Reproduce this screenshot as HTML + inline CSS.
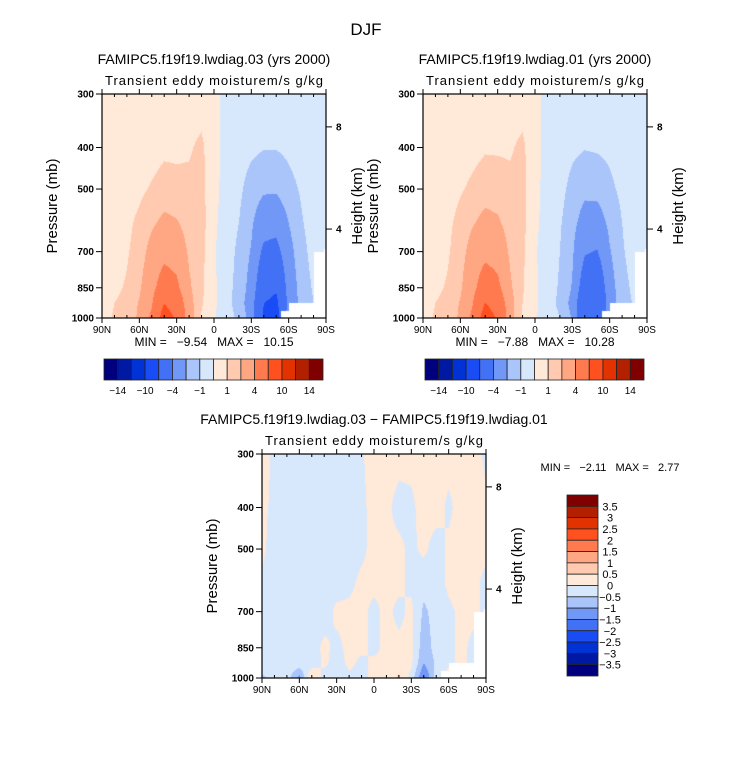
<!DOCTYPE html>
<html><head><meta charset="utf-8"><style>
body{margin:0;background:#fff;width:733px;height:772px;overflow:hidden;position:relative;font-family:"Liberation Sans",sans-serif}
canvas{position:absolute}
svg{position:absolute;left:0;top:0}
</style></head><body>
<canvas id="c1" width="224" height="224" style="left:102px;top:94px"></canvas>
<canvas id="c2" width="224" height="224" style="left:423px;top:94px"></canvas>
<canvas id="c3" width="224" height="224" style="left:262px;top:454px"></canvas>
<svg id="s" width="733" height="772"></svg>
<script>
const lats=[90,80,70,60,50,40,30,20,10,0,-10,-20,-30,-40,-50,-60,-70,-80,-90];
const levs=[300,400,500,600,700,850,925,1000];
const N=NaN;
const field1=[
[0.3,0.3,0.3,0.3,0.4,0.5,0.5,0.5,0.5,0.3,-0.3,-0.4,-0.5,-0.6,-0.6,-0.5,-0.4,-0.3,-0.3],
[0.3,0.3,0.4,0.5,0.6,0.8,0.8,0.9,1.2,0.3,-0.3,-0.6,-0.8,-0.95,-0.95,-0.8,-0.6,-0.4,-0.3],
[0.3,0.4,0.6,0.8,1.1,1.4,1.3,1.2,1.3,0.3,-0.4,-0.8,-1.4,-1.8,-1.8,-1.3,-0.9,-0.5,-0.3],
[0.3,0.5,0.8,1.2,1.8,2.3,2.1,1.5,1.4,0.2,-0.5,-1.0,-1.8,-3.0,-3.2,-2.0,-1.1,-0.6,-0.3],
[0.4,0.6,0.9,1.4,2.5,3.2,3.0,1.8,1.3,0.1,-0.6,-1.2,-2.1,-4.5,-4.8,-2.5,-1.3,-0.7,-0.4],
[0.5,0.8,1.1,1.8,3.2,5.5,4.5,2.2,1.2,0.2,-0.7,-1.3,-2.5,-6.5,-7.5,-3.0,-1.5,-0.9,N],
[0.6,1.0,1.3,2.1,3.8,8.0,6.0,2.5,1.1,0.2,-0.7,-1.4,-2.8,-8.0,-9.0,-3.2,-1.6,-1.0,N],
[0.7,1.1,1.4,2.2,4.5,10.0,7.5,2.6,0.9,0.1,-0.6,-1.2,-2.5,-8.5,-9.5,-2.5,N,N,N]];
const field2=[
[0.3,0.3,0.3,0.3,0.4,0.5,0.5,0.5,0.5,0.3,-0.3,-0.4,-0.5,-0.5,-0.5,-0.4,-0.4,-0.3,-0.3],
[0.3,0.3,0.4,0.5,0.7,0.9,0.9,0.9,1.2,0.3,-0.3,-0.5,-0.8,-0.95,-0.9,-0.8,-0.5,-0.4,-0.3],
[0.3,0.4,0.6,0.9,1.2,1.5,1.4,1.2,1.3,0.3,-0.4,-0.7,-1.3,-1.7,-1.6,-1.2,-0.8,-0.5,-0.3],
[0.3,0.5,0.8,1.3,1.9,2.4,2.2,1.5,1.3,0.2,-0.4,-0.9,-1.6,-2.6,-2.7,-1.7,-1.0,-0.5,-0.3],
[0.4,0.6,0.9,1.5,2.6,3.3,3.0,1.8,1.2,0.1,-0.5,-1.0,-1.8,-3.8,-4.1,-2.1,-1.1,-0.6,-0.4],
[0.5,0.8,1.1,1.8,3.3,5.6,4.6,2.2,1.1,0.2,-0.6,-1.1,-2.1,-5.5,-6.3,-2.6,-1.3,-0.8,N],
[0.6,1.0,1.3,2.1,3.9,8.2,6.1,2.5,1.0,0.2,-0.6,-1.2,-2.4,-6.7,-7.6,-2.7,-1.4,-0.9,N],
[0.7,1.1,1.4,2.2,4.6,10.2,7.6,2.6,0.9,0.1,-0.5,-1.0,-2.1,-7.1,-7.9,-2.1,N,N,N]];
const field3=[
[0.2,-0.1,-0.2,-0.2,-0.2,-0.2,-0.2,-0.2,-0.05,0.2,0.2,0.15,0.15,0.2,0.2,0.2,0.2,0.2,-0.1],
[0.1,-0.1,-0.2,-0.2,-0.2,-0.2,-0.2,-0.2,-0.1,0.15,0.1,-0.15,-0.1,0.2,0.2,-0.1,0.2,0.2,0.1],
[0.1,-0.2,-0.2,-0.2,-0.2,-0.2,-0.2,-0.2,-0.1,0.15,0.1,0.1,-0.1,0.1,-0.2,0.1,0.2,0.1,0.1],
[-0.1,-0.2,-0.2,-0.2,-0.2,-0.2,-0.2,-0.1,0.1,0.1,0.1,0.1,-0.1,-0.3,-0.2,0.1,0.2,0.1,-0.1],
[-0.1,-0.2,-0.2,-0.2,-0.2,-0.2,0.1,0.1,0.1,-0.1,0.1,-0.1,0.1,-0.6,-0.3,-0.1,0.1,0.1,-0.1],
[-0.2,-0.2,-0.2,-0.2,-0.2,0.1,-0.1,0.1,0.1,-0.1,0.1,0.1,0.1,-0.8,-0.3,-0.1,0.1,-0.1,N],
[-0.2,-0.2,-0.2,-0.2,-0.3,0.1,-0.2,0.1,-0.1,0.1,0.1,0.3,0.1,-1.0,-0.4,-0.1,0.1,-0.1,N],
[-0.6,-0.3,-0.2,-1.2,0.6,-0.2,-0.3,-0.1,-0.1,0.1,0.2,0.6,-0.2,-1.6,-0.3,0.3,N,N,N]];
const levelsAbs=[-14,-12,-10,-8,-4,-2,-1,0,1,2,4,8,10,12,14];
const levelsDiff=[-3.5,-3,-2.5,-2,-1.5,-1,-0.5,0,0.5,1,1.5,2,2.5,3,3.5];
const absLabels=['-14','-10','-4','-1','1','4','10','14'];
const diffLabels=['3.5','3','2.5','2','1.5','1','0.5','0','-0.5','-1','-1.5','-2','-2.5','-3','-3.5'];
const xTickLabels=['90N','60N','30N','0','30S','60S','90S'];
const pTicks=[300,400,500,700,850,1000];
const hTicks=[8,4];
const hTickP=[358,620];
const colors=['#00007f','#0019a3','#0032d6','#1a4cf6','#4271f6','#7198f7','#a9c5fa','#d7e8fd','#ffe9d8','#ffcab0','#ffa682','#ff7a4e','#ff5020','#e13200','#b22000','#800000'];

const W=224,H=224;
const yOfP=p=>H*(1-Math.log(1000/p)/Math.log(1000/300));
const pOfY=y=>1000/Math.exp((1-y/H)*Math.log(1000/300));
const xOfLat=l=>W*(90-l)/180;

function sample(f,lat,p){
  let ci=(90-lat)/10; let i0=Math.min(17,Math.floor(ci)); let fx=ci-i0;
  let r=0; while(r<levs.length-2 && levs[r+1]<p) r++;
  let fy=(Math.log(p)-Math.log(levs[r]))/(Math.log(levs[r+1])-Math.log(levs[r]));
  fy=Math.max(0,Math.min(1,fy));
  const a=f[r][i0],b=f[r][i0+1],c=f[r+1][i0],d=f[r+1][i0+1];
  return (a*(1-fx)+b*fx)*(1-fy)+(c*(1-fx)+d*fx)*fy;
}
function masked(lat,p){return (lat<-54&&p>965)||(lat<-81&&p>920)||(lat<-88&&p>690);}
function draw(id,f,lv){
  const cv=document.getElementById(id),ctx=cv.getContext('2d');
  const img=ctx.createImageData(W,H);
  for(let y=0;y<H;y++){const p=pOfY(y+0.5);
    for(let x=0;x<W;x++){const lat=90-(x+0.5)/W*180;
      let k=(y*W+x)*4; let v=masked(lat,p)?NaN:sample(f,lat,p);
      let col='#ffffff';
      if(!isNaN(v)){let j=0;while(j<lv.length&&v>=lv[j])j++;col=colors[j];}
      img.data[k]=parseInt(col.substr(1,2),16);img.data[k+1]=parseInt(col.substr(3,2),16);img.data[k+2]=parseInt(col.substr(5,2),16);img.data[k+3]=255;}}
  ctx.putImageData(img,0,0);
}
draw('c1',field1,levelsAbs);draw('c2',field2,levelsAbs);draw('c3',field3,levelsDiff);

const S=document.getElementById('s');const NS='http://www.w3.org/2000/svg';
function el(t,a,txt){const e=document.createElementNS(NS,t);for(const k in a)e.setAttribute(k,a[k]);if(txt!==undefined)e.textContent=txt;S.appendChild(e);return e;}
function text(x,y,s,size,anchor,name,extra){const e=el('text',Object.assign({x:x,y:y,'font-size':size,'text-anchor':anchor||'middle','font-family':'Liberation Sans, sans-serif',fill:'#000',style:'white-space:pre'},extra||{}),s);

return e;}

text(366,35,'DJF',17,'middle','main-title');
function panel(ox,oy,title,mn,mx,pref,diff){
  text(ox+112,oy-30,title,14,'middle',pref+'-title');
  text(ox+112,oy-9,'Transient eddy moisturem/s g/kg',13,'middle',pref+'-subtitle',{textLength:218});
  const r=el('rect',{x:ox,y:oy,width:W,height:H,fill:'none',stroke:'#000','stroke-width':1.2});
  
  
  for(let l=90;l>=-90;l-=10){const x=ox+xOfLat(l);const maj=l%30===0;
    el('line',{x1:x,x2:x,y1:oy+H,y2:oy+H+(maj?5:-3),stroke:'#000'});
    el('line',{x1:x,x2:x,y1:oy,y2:oy-(maj?5:-3),stroke:'#000'});}
  xTickLabels.forEach((s,i)=>{text(ox+i*W/6,oy+H+15,s,10,'middle',pref+'-x-tick-label');});
  pTicks.forEach(p=>{const y=oy+yOfP(p);el('line',{x1:ox-6,x2:ox,y1:y,y2:y,stroke:'#000'});
    text(ox-8,y+3.5,String(p),10,'end',pref+'-y-tick-label',{'font-weight':'bold'});});
  hTicks.forEach((h,i)=>{const y=oy+yOfP(hTickP[i]);el('line',{x1:ox+W,x2:ox+W+6,y1:y,y2:y,stroke:'#000'});
    text(ox+W+10,y+3.5,String(h),10,'start',pref+'-height-tick-label',{'font-weight':'bold'});});
  const yc=oy+112;
  text(0,0,'Pressure (mb)',15,'middle',pref+'-y-axis-title',{transform:`translate(${ox-45},${yc}) rotate(-90)`});
  text(0,0,'Height (km)',15,'middle',pref+'-height-axis-title',{transform:`translate(${ox+W+36},${yc}) rotate(-90)`});
  if(!diff){
    text(ox+112,oy+H+28,'MIN =   '+mn+'   MAX =   '+mx,12,'middle',pref+'-min-max');
    const bx=ox+2,bw=219/16;
    colors.forEach((c,i)=>{const b=el('rect',{x:bx+i*bw,y:oy+265,width:bw,height:21,fill:c,stroke:'#222','stroke-width':0.8});
      
      });
    absLabels.forEach((s,i)=>{text(bx+(2*i+1)*bw,oy+300,s.replace('-','\u2212'),10,'middle',pref+'-colorbar-label');});
  } else {
    text(610,oy+17,'MIN =   '+mn+'   MAX =   '+mx,11,'middle',pref+'-min-max');
    const bx=567,by=495,bh=181/16;
    colors.slice().reverse().forEach((c,i)=>{const b=el('rect',{x:bx,y:by+i*bh,width:31,height:bh,fill:c,stroke:'#222','stroke-width':0.8});
      
      });
    diffLabels.forEach((s,i)=>{text(610,by+(i+1)*bh+4,s.replace('-','\u2212'),11,'middle',pref+'-colorbar-label');});
  }
}
panel(102,94,'FAMIPC5.f19f19.lwdiag.03 (yrs 2000)','\u22129.54','10.15','panel-03',false);
panel(423,94,'FAMIPC5.f19f19.lwdiag.01 (yrs 2000)','\u22127.88','10.28','panel-01',false);
panel(262,454,'FAMIPC5.f19f19.lwdiag.03 \u2212 FAMIPC5.f19f19.lwdiag.01','\u22122.11','2.77','panel-diff',true);
</script>
</body></html>
